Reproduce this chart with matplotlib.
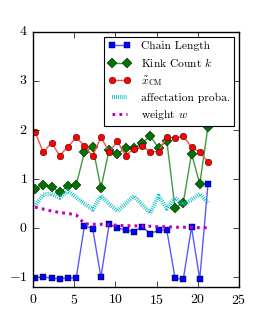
import numpy as np
import matplotlib
matplotlib.use('Agg')
import matplotlib.pyplot as plt

plt.style.use('classic')
plt.rcParams['figure.facecolor'] = 'white'
plt.rcParams['savefig.facecolor'] = 'white'
plt.rcParams['font.family'] = 'serif'
plt.rcParams['font.serif'] = ['cmr10']
plt.rcParams['mathtext.fontset'] = 'cm'
plt.rcParams['axes.formatter.use_mathtext'] = True
plt.rcParams['axes.unicode_minus'] = True
plt.rcParams['lines.scale_dashes'] = False

# data
step = np.arange(22) + 0.25
chain_length = [-1.01, -0.99, -1.02, -1.03, -1.01, -1.01, 0.05, -0.01, -1.0, 0.09,
                0.0, -0.03, -0.07, 0.03, -0.11, -0.04, -0.04, -1.02, -1.04, 0.02,
                -1.04, 0.90]
kink_count = [0.80, 0.89, 0.84, 0.73, 0.86, 0.88, 1.55, 1.66, 0.82, 1.60,
              1.52, 1.63, 1.63, 1.73, 1.88, 1.63, 1.78, 0.41, 0.52, 1.52,
              0.90, 2.07]
x_cm = [1.96, 1.55, 1.74, 1.48, 1.66, 1.85, 1.68, 1.47, 1.86, 1.55,
        1.77, 1.48, 1.62, 1.67, 1.56, 1.56, 1.86, 1.83, 1.88, 1.65,
        1.55, 1.35]
affectation = [0.45, 0.69, 0.70, 0.62, 0.76, 0.63, 0.50, 0.38, 0.66, 0.50,
               0.35, 0.50, 0.66, 0.48, 0.31, 0.66, 0.40, 0.62, 0.48, 0.58,
               0.70, 0.52]
weight = [0.43, 0.39, 0.35, 0.32, 0.30, 0.27, 0.09, 0.08, 0.08, 0.07,
          0.06, 0.05, 0.05, 0.04, 0.04, 0.03, 0.03, 0.02, 0.02, 0.02,
          0.01, 0.01]

fig = plt.figure(figsize=(2.66, 3.19), dpi=100)
ax = fig.add_axes([0.124, 0.10, 0.774, 0.80])

ax.plot(step, chain_length, '-s', color=(0.35, 0.35, 1.0), mfc='b', mec='k',
        mew=0.3, ms=4.8, lw=1, label='Chain Length')
ax.plot(step, kink_count, '-D', color=(0.25, 0.6, 0.25), mfc=(0, 0.45, 0), mec='k',
        mew=0.3, ms=4.8, lw=1, label='Kink Count $k$')
ax.plot(step, x_cm, '-o', color=(1.0, 0.3, 0.3), mfc='r', mec='k',
        mew=0.3, ms=4.8, lw=1, label=r'$\tilde{x}_{\rm CM}$')
l1, = ax.plot(step, affectation, color='c', lw=3, label='affectation proba.')
l1.set_dashes((0.6, 0.9))
l2, = ax.plot(step, weight, color='m', lw=2.2, label='weight $w$')
l2.set_dashes((2.0, 3.0))

ax.set_xlim(0, 25)
ax.set_ylim(-1.2, 4)
ax.set_xticks([0, 5, 10, 15, 20, 25])
ax.set_yticks([-1, 0, 1, 2, 3, 4])
ax.tick_params(labelsize=10, length=4)

leg = ax.legend(loc='upper right', fontsize=8.3, numpoints=2, handlelength=1.9,
                borderaxespad=0.45, labelspacing=0.42, borderpad=0.35,
                handletextpad=0.9)
leg.get_frame().set_linewidth(0.8)

fig.savefig('out.png', dpi=100)
